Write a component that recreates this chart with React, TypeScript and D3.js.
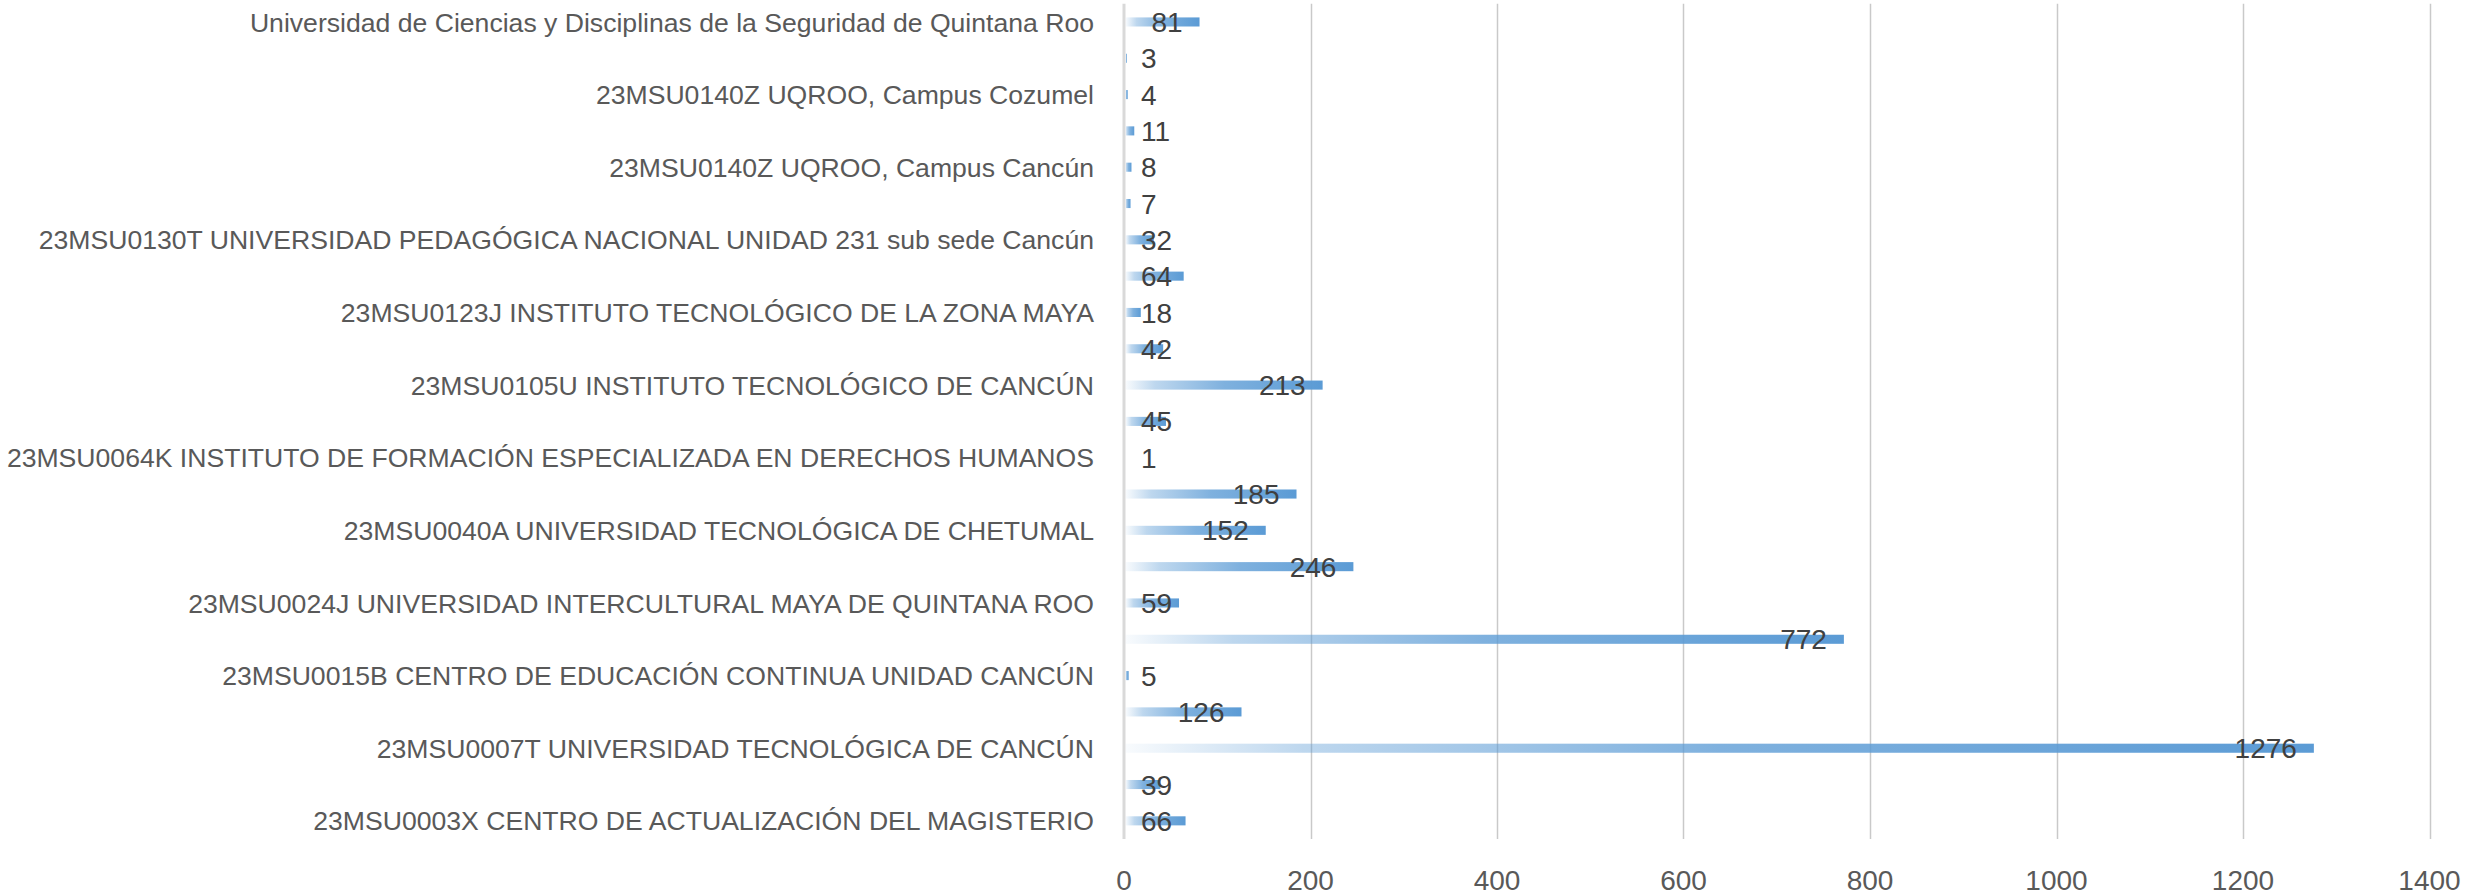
import React from "react";
import * as d3 from "d3";

// bottom to top
const categories: string[] = [
  "23MSU0003X CENTRO DE ACTUALIZACIÓN DEL MAGISTERIO",
  "",
  "23MSU0007T UNIVERSIDAD TECNOLÓGICA DE CANCÚN",
  "",
  "23MSU0015B CENTRO DE EDUCACIÓN CONTINUA UNIDAD CANCÚN",
  "",
  "23MSU0024J UNIVERSIDAD INTERCULTURAL MAYA DE QUINTANA ROO",
  "",
  "23MSU0040A UNIVERSIDAD TECNOLÓGICA DE CHETUMAL",
  "",
  "23MSU0064K INSTITUTO DE FORMACIÓN ESPECIALIZADA EN DERECHOS HUMANOS",
  "",
  "23MSU0105U INSTITUTO TECNOLÓGICO DE CANCÚN",
  "",
  "23MSU0123J INSTITUTO TECNOLÓGICO DE LA ZONA MAYA",
  "",
  "23MSU0130T UNIVERSIDAD PEDAGÓGICA NACIONAL UNIDAD 231 sub sede Cancún",
  "",
  "23MSU0140Z UQROO, Campus Cancún",
  "",
  "23MSU0140Z UQROO, Campus Cozumel",
  "",
  "Universidad de Ciencias y Disciplinas de la Seguridad de Quintana Roo",
];

const values: number[] = [
  66, 39, 1276, 126, 5, 772, 59, 246, 152, 185, 1, 45, 213, 42, 18, 64, 32, 7, 8, 11, 4, 3, 81,
];

const xTicks: number[] = [0, 200, 400, 600, 800, 1000, 1200, 1400];

const W = 2478;
const H = 895;
const X0 = 1124;
const X1 = 2429.5;
const YTOP = 3.8;
const YBOT = 839;
const FONT = "'Liberation Sans', Arial, sans-serif";
const VAL_SIZE = 28;
const CAT_SIZE = 26.6;

let ctx: CanvasRenderingContext2D | null = null;
function measure(text: string, size: number): number {
  if (!ctx) {
    const c = document.createElement("canvas");
    ctx = c.getContext("2d");
  }
  if (!ctx) return text.length * size * 0.556;
  ctx.font = `${size}px ${FONT}`;
  return ctx.measureText(text).width;
}

export default function App() {
  const x = d3.scaleLinear().domain([0, 1400]).range([X0, X1]);
  const idx = d3.range(values.length);
  const y = d3
    .scaleBand<number>()
    .domain(idx.slice().reverse())
    .range([YTOP, YBOT])
    .paddingInner(0.75)
    .paddingOuter(0.375);
  const bw = y.bandwidth();

  return (
    <svg
      width={W}
      height={H}
      style={{ position: "absolute", left: 0, top: 0, background: "#fff" }}
      fontFamily={FONT}
    >
      <defs>
        <linearGradient id="barGrad" x1="0" y1="0" x2="1" y2="0">
          <stop offset="0" stopColor="#5B9BD5" stopOpacity={0.04} />
          <stop offset="0.15" stopColor="#5B9BD5" stopOpacity={0.4} />
          <stop offset="0.5" stopColor="#5B9BD5" stopOpacity={0.78} />
          <stop offset="1" stopColor="#5B9BD5" stopOpacity={1} />
        </linearGradient>
      </defs>
      <rect x={0} y={0} width={W} height={H} fill="#fff" />
      {/* gridlines */}
      {xTicks.slice(1).map((t) => (
        <line
          key={t}
          x1={Math.round(x(t)) + 0.5}
          x2={Math.round(x(t)) + 0.5}
          y1={YTOP}
          y2={YBOT}
          stroke="#C9C9C9"
          strokeWidth={1.5}
        />
      ))}
      {/* bars */}
      {idx.map((i) => {
        const yy = y(i)!;
        return (
          <rect
            key={i}
            x={X0 + 1.5}
            y={yy}
            width={Math.max(0, x(values[i]) - X0 - 1.5)}
            height={bw}
            fill="url(#barGrad)"
          />
        );
      })}
      {/* axis line */}
      <line x1={X0} x2={X0} y1={YTOP} y2={YBOT} stroke="#D9D9D9" strokeWidth={3} />
      {/* value labels */}
      {idx.map((i) => {
        const label = String(values[i]);
        const w = measure(label, VAL_SIZE);
        const left = Math.max(X0 + 17, x(values[i]) - 17 - w);
        return (
          <text
            key={i}
            x={left}
            y={y(i)! + bw / 2}
            dy="0.36em"
            fontSize={VAL_SIZE}
            fill="#404040"
          >
            {label}
          </text>
        );
      })}
      {/* category labels */}
      {idx.map((i) =>
        categories[i] ? (
          <text
            key={i}
            x={X0 - 30}
            y={y(i)! + bw / 2}
            dy="0.36em"
            textAnchor="end"
            fontSize={CAT_SIZE}
            fill="#595959"
          >
            {categories[i]}
          </text>
        ) : null
      )}
      {/* x tick labels */}
      {xTicks.map((t) => (
        <text
          key={t}
          x={x(t)}
          y={880}
          dy="0.36em"
          textAnchor="middle"
          fontSize={VAL_SIZE}
          fill="#595959"
        >
          {t}
        </text>
      ))}
    </svg>
  );
}
